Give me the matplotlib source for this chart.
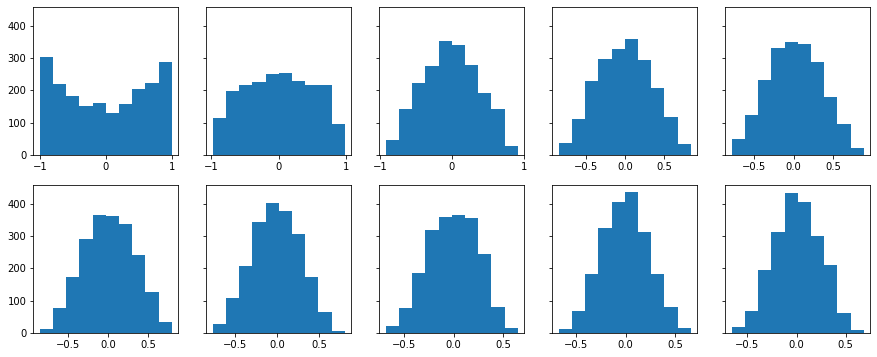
import numpy as np
import matplotlib
matplotlib.use("Agg")
import matplotlib.pyplot as plt

# data range (min, max) of each panel
ranges = [
    (-0.999, 0.998), (-0.970, 0.975), (-0.916, 0.912), (-0.843, 0.843), (-0.783, 0.889),
    (-0.857, 0.800), (-0.768, 0.810), (-0.687, 0.651), (-0.678, 0.660), (-0.659, 0.686),
]

# counts in each of the 10 bins per panel
counts_1 = [302, 220, 182, 152, 160, 129, 157, 204, 223, 288]
counts_2 = [114, 198, 216, 226, 250, 254, 229, 216, 216, 96]
counts_3 = [46, 142, 223, 275, 353, 340, 278, 192, 142, 28]
counts_4 = [37, 112, 230, 297, 328, 359, 294, 207, 118, 34]
counts_5 = [49, 124, 232, 331, 349, 343, 288, 179, 96, 22]
counts_6 = [12, 77, 173, 290, 364, 361, 336, 241, 126, 34]
counts_7 = [28, 108, 207, 342, 401, 376, 305, 173, 65, 6]
counts_8 = [22, 77, 185, 318, 358, 364, 355, 244, 80, 15]
counts_9 = [12, 68, 182, 324, 404, 435, 312, 182, 80, 15]
counts_10 = [19, 68, 194, 312, 432, 404, 299, 210, 62, 9]

all_counts = [counts_1, counts_2, counts_3, counts_4, counts_5,
              counts_6, counts_7, counts_8, counts_9, counts_10]

fig, axes = plt.subplots(2, 5, figsize=(877 / 72, 357 / 72), dpi=72, sharey=True)
fig.subplots_adjust(left=0.038, right=0.9924, top=0.9796, bottom=0.0672,
                    wspace=0.193, hspace=0.205)

for ax, (lo, hi), counts in zip(axes.flat, ranges, all_counts):
    edges = np.linspace(lo, hi, len(counts) + 1)
    ax.hist(edges[:-1], bins=edges, weights=counts, color="#1f77b4")

fig.savefig("out.png", dpi=72)
